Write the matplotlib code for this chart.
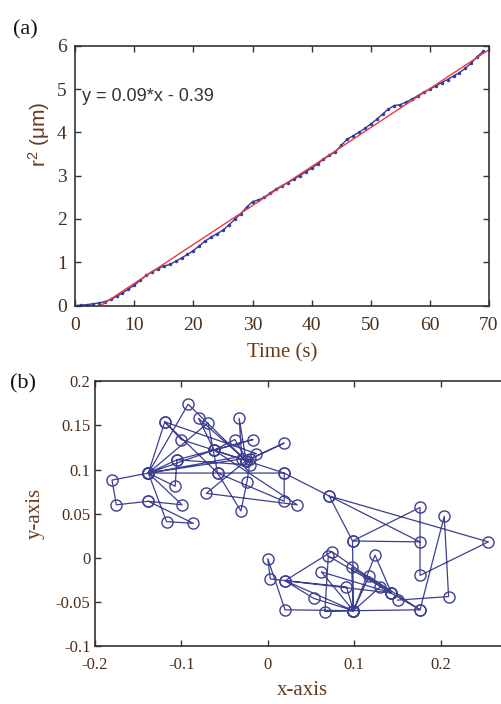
"""
mean squared displacement of a trapped particle (a)
and its x-y trajectory (b)
"""
import numpy as np
import matplotlib
matplotlib.use("Agg")
import matplotlib.pyplot as plt

plt.rcParams['mathtext.fontset'] = 'custom'
plt.rcParams['mathtext.rm'] = 'Liberation Sans'
plt.rcParams['mathtext.it'] = 'Liberation Sans'

# ---- panel (a) data: r^2 vs time ----
time_s = list(range(0, 70))
r2_um = [0.00, 0.01, 0.02, 0.04, 0.06, 0.09, 0.14, 0.21, 0.29, 0.38,
         0.47, 0.58, 0.70, 0.78, 0.85, 0.91, 0.95, 1.02, 1.10, 1.18,
         1.27, 1.38, 1.49, 1.58, 1.66, 1.74, 1.86, 1.99, 2.12, 2.27,
         2.40, 2.44, 2.50, 2.60, 2.69, 2.77, 2.84, 2.92, 3.00, 3.09,
         3.17, 3.27, 3.38, 3.47, 3.55, 3.70, 3.84, 3.92, 4.00, 4.09,
         4.19, 4.30, 4.42, 4.54, 4.62, 4.64, 4.70, 4.77, 4.85, 4.93,
         5.00, 5.07, 5.15, 5.22, 5.30, 5.38, 5.48, 5.60, 5.75, 5.87]

fit_slope = 0.09
fit_intercept = -0.39
fit_x = [4.33, 70.0]

# ---- panel (b) data: trajectory, in visiting order ----
traj_x = [-0.138, -0.175, -0.180, -0.138, -0.119, -0.100, -0.025, -0.092,
          -0.138, -0.105, -0.017, -0.062, -0.080, -0.025, -0.033, -0.030,
          -0.138, -0.117, -0.086, -0.138, -0.099, -0.138, -0.069, -0.058,
          -0.119, -0.013, -0.138, -0.107, -0.105, -0.020, -0.038, -0.062,
          0.034, -0.071, -0.025, 0.019, -0.020, -0.024, -0.031, -0.058,
          0.019, 0.019, -0.138, -0.062, 0.019, 0.071, 0.255, 0.176,
          0.176, 0.098, 0.176, 0.071, 0.098, 0.099, 0.020, 0.000,
          0.003, 0.143, 0.074, 0.020, 0.099, 0.124, 0.143, 0.070,
          0.066, 0.099, 0.097, 0.143, 0.062, 0.099, 0.117, 0.176,
          0.099, 0.053, 0.020, 0.091, 0.099, 0.130, 0.176, 0.204,
          0.209, 0.150]
traj_y = [0.064, 0.060, 0.088, 0.096, 0.154, 0.134, 0.110, 0.174,
          0.096, 0.111, 0.134, 0.122, 0.158, 0.110, 0.158, 0.112,
          0.096, 0.041, 0.039, 0.064, 0.060, 0.096, 0.153, 0.096,
          0.154, 0.118, 0.096, 0.081, 0.111, 0.105, 0.134, 0.122,
          0.060, 0.073, 0.110, 0.130, 0.112, 0.086, 0.053, 0.096,
          0.064, 0.096, 0.096, 0.122, 0.096, 0.070, 0.018, -0.020,
          0.057, 0.019, 0.018, 0.070, 0.019, -0.060, -0.059, -0.001,
          -0.024, -0.040, 0.007, -0.026, -0.060, 0.003, -0.040, 0.002,
          -0.061, -0.060, -0.011, -0.040, -0.016, -0.060, -0.021, -0.059,
          -0.060, -0.046, -0.026, -0.033, -0.060, -0.033, -0.059, 0.047,
          -0.044, -0.048]

brown = '#6b3a1e'
tick_brown = '#4a2e1a'
spine_c = '#333333'
serif = 'Liberation Serif'
sans = 'Liberation Sans'

fig = plt.figure(figsize=(5.01, 7.04), dpi=100)


def style_axes(ax, size):
    """inward ticks on all four sides, Times-like labels"""
    ax.tick_params(direction='in', top=True, right=True, length=4,
                   width=1.0, color=spine_c, labelcolor=tick_brown,
                   labelsize=size)
    for lab in ax.get_xticklabels() + ax.get_yticklabels():
        lab.set_family(serif)
    for sp in ax.spines.values():
        sp.set_color(spine_c)
        sp.set_linewidth(1.2)


# ---------------- (a) ----------------
ax1 = fig.add_axes([0.150, 0.566, 0.826, 0.369])
ax1.plot(time_s, r2_um, color='#3a3a9a', lw=1.0, marker='.', ms=3,
         markevery=1)
fit_y = [fit_slope * v + fit_intercept for v in fit_x]
ax1.plot(fit_x, fit_y, color='#e83a3a', lw=1.0)
ax1.set_xlim(0, 70)
ax1.set_ylim(0, 6)
ax1.set_xticks(range(0, 71, 10))
ax1.set_yticks(range(0, 7))
style_axes(ax1, 14)
ax1.tick_params(axis='x', pad=8)
ax1.tick_params(axis='y', pad=6)
ax1.text(1.2, 4.82, 'y = 0.09*x - 0.39', family=sans, fontsize=13,
         color='#333333', va='center')
ax1.set_xlabel('Time (s)', family=serif, fontsize=15, color=brown,
               labelpad=7)
ax1.set_ylabel(r'r$^2$ (μm)', family=sans, fontsize=15, color=brown)
ax1.yaxis.set_label_coords(-0.055, 0.66)
fig.text(0.026, 0.957, '(a)', family=serif, fontsize=16, color='#111111',
         va='center')

# ---------------- (b) ----------------
ax2 = fig.add_axes([0.189, 0.0824, 0.829, 0.376])
ax2.plot(traj_x, traj_y, color='#3d3f90', lw=0.9, marker='o', ms=8,
         mfc='none', mec='#3d3f90', mew=1.0)
ax2.set_xlim(-0.2, 0.28)
ax2.set_ylim(-0.1, 0.2)
ax2.set_xticks([-0.2, -0.1, 0, 0.1, 0.2])
ax2.set_xticklabels(['-0.2', '-0.1', '0', '0.1', '0.2'])
ax2.set_yticks([-0.1, -0.05, 0, 0.05, 0.1, 0.15, 0.2])
ax2.set_yticklabels(['-0.1', '-0.05', '0', '0.05', '0.1', '0.15', '0.2'])
style_axes(ax2, 12)
ax2.tick_params(axis='x', pad=8)
ax2.tick_params(axis='y', pad=3)
ax2.set_xlabel('x-axis', family=serif, fontsize=15, color=brown,
               labelpad=6)
ax2.set_ylabel('y-axis', family=serif, fontsize=15, color=brown,
               labelpad=8)
fig.text(0.020, 0.455, '(b)', family=serif, fontsize=16, color='#111111',
         va='center')

fig.savefig('out.png', dpi=100)
